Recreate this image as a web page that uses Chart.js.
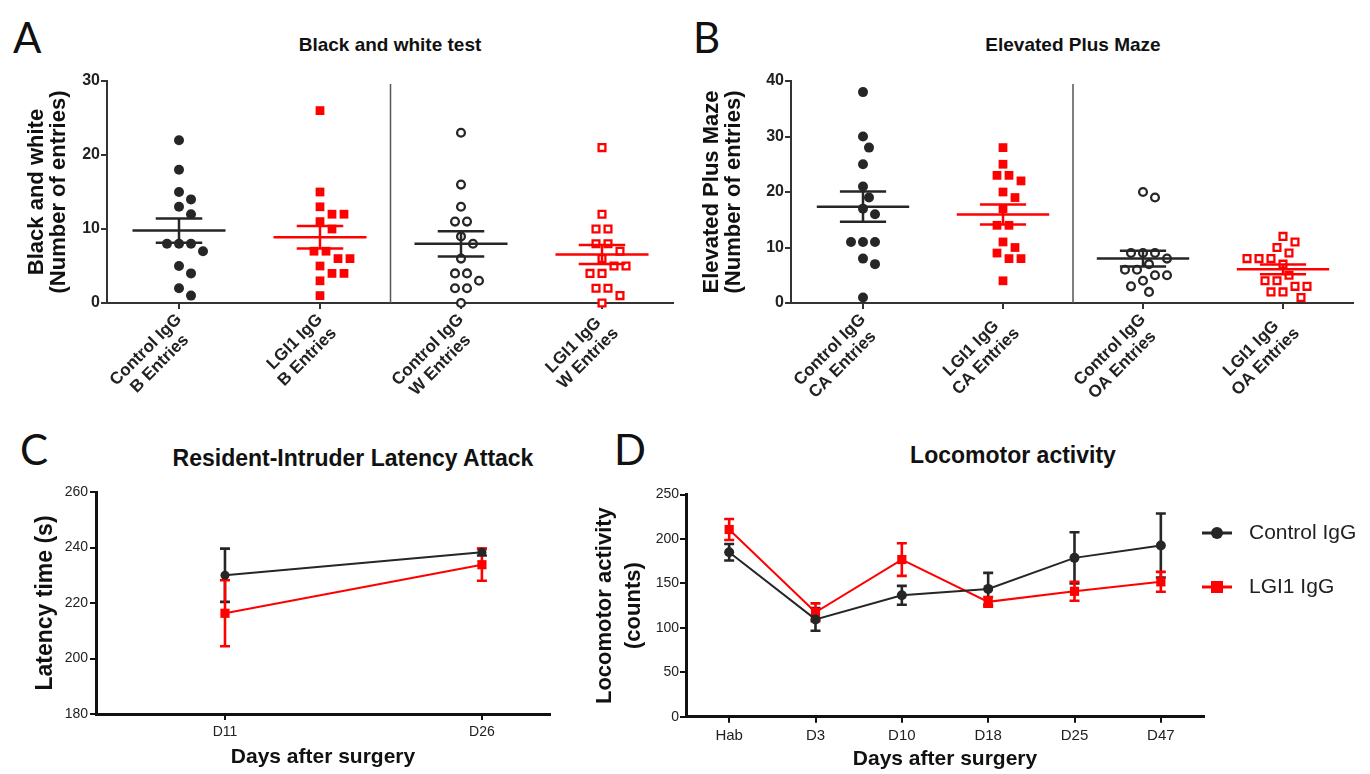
<!DOCTYPE html>
<html>
<head>
<meta charset="utf-8">
<script src="https://cdn.jsdelivr.net/npm/chart.js@4.4.1/dist/chart.umd.min.js"></script>
<style>
  html, body { margin: 0; padding: 0; background: #fff; }
  body { width: 1370px; height: 774px; position: relative; overflow: hidden; font-family: "Liberation Sans", Arial, sans-serif; }
  canvas { position: absolute; }
  .letter { position: absolute; font-family: Lato, "Open Sans", sans-serif; font-size: 42px; line-height: 42px; color: #111; }
  .title { position: absolute; font-weight: bold; color: #111; transform: translateX(-50%); white-space: nowrap; }
</style>
</head>
<body>
<div class="letter" style="left:13px;top:16px">A</div>
<div class="letter" style="left:693px;top:16px">B</div>
<div class="letter" style="left:20px;top:428px">C</div>
<div class="letter" style="left:614px;top:428px">D</div>
<div class="title" style="left:390px;top:34px;font-size:19px;line-height:22px">Black and white test</div>
<div class="title" style="left:1073px;top:34px;font-size:19px;line-height:22px">Elevated Plus Maze</div>
<div class="title" style="left:353px;top:445px;font-size:23px;line-height:26px">Resident-Intruder Latency Attack</div>
<div class="title" style="left:1013px;top:442px;font-size:23px;line-height:26px">Locomotor activity</div>

<canvas id="chartA" width="690" height="430" style="left:0;top:0"></canvas>
<canvas id="chartB" width="680" height="430" style="left:690px;top:0"></canvas>
<canvas id="chartC" width="580" height="344" style="left:0;top:430px"></canvas>
<canvas id="chartD" width="790" height="344" style="left:580px;top:430px"></canvas>

<script>
// ---- data ----
const groupsA = [["Control IgG", "B Entries"], ["LGI1 IgG", "B Entries"], ["Control IgG", "W Entries"], ["LGI1 IgG", "W Entries"]];
const ctrlB = [22, 18, 15, 14, 13, 12, 8, 8, 8, 7, 5, 4, 2, 1];
const lgiB = [26, 15, 13, 12, 12, 11, 10, 7, 7, 6, 6, 5, 4, 4, 3, 1];
const ctrlW = [23, 16, 13, 11, 11, 9, 8, 6, 4, 4, 3, 2, 2, 0];
const lgiW = [21, 12, 10, 10, 8, 8, 7, 6, 5, 5, 4, 4, 2, 2, 1, 0];
const yTicksA = [0, 10, 20, 30];

const groupsB = [["Control IgG", "CA Entries"], ["LGI1 IgG", "CA Entries"], ["Control IgG", "OA Entries"], ["LGI1 IgG", "OA Entries"]];
const ctrlCA = [38, 30, 28, 25, 21, 19, 17, 16, 11, 11, 11, 8, 7, 1];
const lgiCA = [28, 25, 23, 23, 22, 20, 19, 17, 14, 14, 11, 10, 9, 8, 8, 4];
const ctrlOA = [20, 19, 9, 9, 9, 8, 7, 6, 6, 5, 5, 4, 3, 2];
const lgiOA = [12, 11, 10, 9, 8, 8, 8, 7, 5, 4, 4, 3, 3, 2, 2, 1];
const yTicksB = [0, 10, 20, 30, 40];

const daysC = ["D11", "D26"];
const ctrlC = [230, 238.3];
const ctrlCsem = [9.6, 1.2];
const lgiC = [216.3, 233.8];
const lgiCsem = [11.9, 5.8];
const yTicksC = [180, 200, 220, 240, 260];

const daysD = ["Hab", "D3", "D10", "D18", "D25", "D47"];
const ctrlD = [185, 109.5, 136.6, 143.8, 178.7, 192.6];
const ctrlDsem = [9.3, 12.8, 10.6, 18, 28.8, 36];
const lgiD = [210.6, 117.5, 176.8, 129.2, 141.1, 151.7];
const lgiDsem = [11.8, 10, 18.4, 5.5, 10.6, 11.2];
const yTicksD = [0, 50, 100, 150, 200, 250];

const BLACK = '#262626';
const RED = '#ff0000';
const FONT = '"Liberation Sans", Arial, Helvetica, sans-serif';

Chart.defaults.font.family = FONT;
Chart.defaults.color = '#222';
Chart.defaults.animation = false;

// spread equal / close values sideways like a column scatter
function swarm(values, center, pxX, pxY, diam) {
  const placed = [];
  const pts = [];
  const shifts = [0];
  for (let k = 1; k <= 10; k++) shifts.push(k * diam / 2, -k * diam / 2);
  const levels = [...new Set(values)];
  levels.forEach(v => {
    const n = values.filter(u => u === v).length;
    const row = Array.from({ length: n }, (_, j) => (j - (n - 1) / 2) * diam);
    const free = c => placed.every(p => Math.hypot(p.dx - c, (p.v - v) * pxY) >= diam - 0.01);
    let s = shifts.find(b => row.every(r => free(r + b)));
    if (s === undefined) s = 0;
    row.forEach(r => {
      placed.push({ dx: r + s, v: v });
      pts.push({ x: center + (r + s) / pxX, y: v });
    });
  });
  return pts;
}

// right-aligned rotated labels: pad the shorter line so the two lines look centred
const measureCtx = document.createElement('canvas').getContext('2d');
function centreLines(lines, font) {
  measureCtx.font = font;
  const w = lines.map(t => measureCtx.measureText(t).width);
  const maxW = Math.max(...w);
  const sp = measureCtx.measureText(' ').width;
  return lines.map((t, i) => t + ' '.repeat(Math.round((maxW - w[i]) / 2 / sp)));
}

const avg = a => a.reduce((s, v) => s + v, 0) / a.length;
const sem = a => {
  const m = avg(a);
  const sd = Math.sqrt(a.reduce((s, v) => s + (v - m) * (v - m), 0) / (a.length - 1));
  return sd / Math.sqrt(a.length);
};

function meanSemPlugin(sets) {
  return {
    id: 'meanSem',
    afterDatasetsDraw(chart) {
      const { ctx, scales: { x, y } } = chart;
      const line = (x1, y1, x2, y2) => { ctx.beginPath(); ctx.moveTo(x1, y1); ctx.lineTo(x2, y2); ctx.stroke(); };
      ctx.save();
      sets.forEach((s, i) => {
        const m = avg(s.values), e = sem(s.values);
        const c = i + 1;
        ctx.strokeStyle = s.color;
        ctx.lineWidth = 2.5;
        line(x.getPixelForValue(c - 0.33), y.getPixelForValue(m), x.getPixelForValue(c + 0.33), y.getPixelForValue(m));
        line(x.getPixelForValue(c - 0.165), y.getPixelForValue(m + e), x.getPixelForValue(c + 0.165), y.getPixelForValue(m + e));
        line(x.getPixelForValue(c - 0.165), y.getPixelForValue(m - e), x.getPixelForValue(c + 0.165), y.getPixelForValue(m - e));
        line(x.getPixelForValue(c), y.getPixelForValue(m - e), x.getPixelForValue(c), y.getPixelForValue(m + e));
      });
      // divider between the two pairs
      ctx.strokeStyle = '#555';
      ctx.lineWidth = 1.5;
      const sx = x.getPixelForValue(2.5);
      line(sx, y.bottom, sx, y.top + 3);
      ctx.restore();
    }
  };
}

function makeColumns(id, groups, sets, yTicks, yTitle, L) {
  const yMax = yTicks[yTicks.length - 1];
  const pxY = (L.bottom - L.top) / yMax;
  const datasets = sets.map((s, i) => ({
    data: swarm(s.values, i + 1, L.step, pxY, 12),
    pointStyle: s.shape,
    pointRadius: s.shape === 'rect' ? (s.open ? 4.8 : 6.2) : (s.open ? 3.9 : 5),
    pointBackgroundColor: s.open ? '#fff' : s.color,
    pointBorderColor: s.color,
    pointBorderWidth: s.open ? 2.3 : 0,
    clip: false
  }));
  const xMin = 1 - L.firstOffset / L.step;
  const xMax = 4.5;
  const padRight = L.width - (L.left + (xMax - xMin) * L.step);
  const tickFont = 'bold 17px ' + FONT;
  new Chart(document.getElementById(id), {
    type: 'scatter',
    data: { datasets: datasets },
    options: {
      responsive: false,
      layout: { padding: { left: 0, top: L.top, right: padRight, bottom: 0 } },
      plugins: { legend: { display: false }, tooltip: { enabled: false } },
      scales: {
        x: {
          type: 'linear', min: xMin, max: xMax,
          afterBuildTicks: s => { s.ticks = groups.map((g, i) => ({ value: i + 1 })); },
          afterFit: s => { s.height = L.height - L.bottom; },
          ticks: {
            callback: v => centreLines(groups[v - 1], tickFont), autoSkip: false, minRotation: 45, maxRotation: 45,
            font: { size: 17, weight: 'bold', lineHeight: 1.15 }, color: '#222', padding: 1
          },
          grid: { display: true, drawOnChartArea: false, drawTicks: true, tickLength: 6, color: '#333', lineWidth: 2 },
          border: { display: true, color: '#333', width: 2 }
        },
        y: {
          min: 0, max: yMax,
          afterBuildTicks: s => { s.ticks = yTicks.map(v => ({ value: v })); },
          afterFit: s => { s.width = L.left; },
          ticks: { font: { size: 16, weight: 'bold' }, color: '#222', padding: 1 },
          grid: { display: true, drawOnChartArea: false, drawTicks: true, tickLength: 6, color: '#333', lineWidth: 2 },
          border: { display: true, color: '#333', width: 2 },
          title: {
            display: true, text: yTitle, color: '#111',
            font: { size: 22, weight: 'bold', lineHeight: 1.0 },
            padding: { top: L.titlePad, bottom: 0 }
          }
        }
      }
    },
    plugins: [meanSemPlugin(sets)]
  });
}

makeColumns('chartA', groupsA, [
  { values: ctrlB, color: BLACK, shape: 'circle', open: false },
  { values: lgiB, color: RED, shape: 'rect', open: false },
  { values: ctrlW, color: BLACK, shape: 'circle', open: true },
  { values: lgiW, color: RED, shape: 'rect', open: true }
], yTicksA, ["Black and white", "(Number of entries)"],
  { width: 690, height: 430, left: 107, top: 81, bottom: 303, step: 141, firstOffset: 72, titlePad: 26 });

makeColumns('chartB', groupsB, [
  { values: ctrlCA, color: BLACK, shape: 'circle', open: false },
  { values: lgiCA, color: RED, shape: 'rect', open: false },
  { values: ctrlOA, color: BLACK, shape: 'circle', open: true },
  { values: lgiOA, color: RED, shape: 'rect', open: true }
], yTicksB, ["Elevated Plus Maze", "(Number of entries)"],
  { width: 680, height: 430, left: 101, top: 81, bottom: 303, step: 140, firstOffset: 72, titlePad: 11 });

function errorBarPlugin(sets) {
  return {
    id: 'errBars',
    beforeDatasetsDraw(chart) {
      const { ctx, scales: { x, y } } = chart;
      ctx.save();
      ctx.lineWidth = 2.6;
      sets.forEach(s => {
        ctx.strokeStyle = s.color;
        s.means.forEach((m, i) => {
          const px = x.getPixelForValue(i);
          const top = y.getPixelForValue(m + s.sems[i]);
          const bot = y.getPixelForValue(m - s.sems[i]);
          ctx.beginPath();
          ctx.moveTo(px, top); ctx.lineTo(px, bot);
          ctx.moveTo(px - 5, top); ctx.lineTo(px + 5, top);
          ctx.moveTo(px - 5, bot); ctx.lineTo(px + 5, bot);
          ctx.stroke();
        });
      });
      ctx.restore();
    }
  };
}

const axisStyle = {
  grid: { display: true, drawOnChartArea: false, drawTicks: true, tickLength: 6, color: '#111', lineWidth: 2 },
  border: { display: true, color: '#111', width: 3 }
};

// ---- C ----
new Chart(document.getElementById('chartC'), {
  type: 'line',
  data: {
    datasets: [
      {
        label: 'Control IgG', data: ctrlC.map((v, i) => ({ x: i, y: v })),
        borderColor: BLACK, borderWidth: 2, pointStyle: 'circle', pointRadius: 4.5,
        pointBackgroundColor: BLACK, pointBorderWidth: 0, clip: false
      },
      {
        label: 'LGI1 IgG', data: lgiC.map((v, i) => ({ x: i, y: v })),
        borderColor: RED, borderWidth: 2, pointStyle: 'rect', pointRadius: 6.5,
        pointBackgroundColor: RED, pointBorderWidth: 0, clip: false
      }
    ]
  },
  options: {
    responsive: false,
    layout: { padding: { left: 0, top: 62, right: 30, bottom: 0 } },
    plugins: { legend: { display: false }, tooltip: { enabled: false } },
    scales: {
      x: {
        type: 'linear', min: -0.502, max: 1.265,
        afterBuildTicks: s => { s.ticks = daysC.map((d, i) => ({ value: i })); },
        afterFit: s => { s.height = 60; },
        ticks: { callback: v => daysC[v], autoSkip: false, maxRotation: 0, font: { size: 14 }, color: '#222', padding: 4 },
        title: { display: true, text: 'Days after surgery', color: '#111', font: { size: 21, weight: 'bold', lineHeight: 1.2 }, padding: { top: 0, bottom: 4 } },
        ...axisStyle
      },
      y: {
        min: 180, max: 260,
        afterBuildTicks: s => { s.ticks = yTicksC.map(v => ({ value: v })); },
        afterFit: s => { s.width = 96; },
        ticks: { font: { size: 14 }, color: '#222', padding: 2 },
        title: { display: true, text: 'Latency time (s)', color: '#111', font: { size: 23, weight: 'bold', lineHeight: 1.2 }, padding: { top: 32, bottom: 0 } },
        ...axisStyle
      }
    }
  },
  plugins: [errorBarPlugin([
    { means: ctrlC, sems: ctrlCsem, color: BLACK },
    { means: lgiC, sems: lgiCsem, color: RED }
  ])]
});

// ---- D ----
const sideLegend = {
  id: 'sideLegend',
  afterDraw(chart) {
    const ctx = chart.ctx;
    const x0 = chart.chartArea.right - 2;
    chart.data.datasets.forEach((ds, i) => {
      const y = 103 + i * 54;
      ctx.save();
      ctx.strokeStyle = ds.borderColor;
      ctx.lineWidth = 3;
      ctx.beginPath(); ctx.moveTo(x0, y); ctx.lineTo(x0 + 30, y); ctx.stroke();
      ctx.fillStyle = ds.borderColor;
      if (ds.pointStyle === 'rect') {
        ctx.fillRect(x0 + 9, y - 6, 12, 12);
      } else {
        ctx.beginPath(); ctx.arc(x0 + 15, y, 6, 0, Math.PI * 2); ctx.fill();
      }
      ctx.font = '21px ' + FONT;
      ctx.textBaseline = 'middle';
      ctx.fillStyle = '#222';
      ctx.fillText(ds.label, x0 + 47, y);
      ctx.restore();
    });
  }
};

new Chart(document.getElementById('chartD'), {
  type: 'line',
  data: {
    labels: daysD,
    datasets: [
      {
        label: 'Control IgG', data: ctrlD,
        borderColor: BLACK, borderWidth: 2, pointStyle: 'circle', pointRadius: 5,
        pointBackgroundColor: BLACK, pointBorderWidth: 0, clip: false
      },
      {
        label: 'LGI1 IgG', data: lgiD,
        borderColor: RED, borderWidth: 2, pointStyle: 'rect', pointRadius: 6.5,
        pointBackgroundColor: RED, pointBorderWidth: 0, clip: false
      }
    ]
  },
  options: {
    responsive: false,
    layout: { padding: { left: 0, top: 64.5, right: 166, bottom: 0 } },
    plugins: { legend: { display: false }, tooltip: { enabled: false } },
    scales: {
      x: {
        type: 'category', offset: true,
        afterFit: s => { s.height = 57.3; },
        ticks: { autoSkip: false, maxRotation: 0, font: { size: 15 }, color: '#222', padding: 4 },
        title: { display: true, text: 'Days after surgery', color: '#111', font: { size: 21, weight: 'bold', lineHeight: 1.2 }, padding: { top: 0, bottom: 2 } },
        ...axisStyle
      },
      y: {
        min: 0, max: 250,
        afterBuildTicks: s => { s.ticks = yTicksD.map(v => ({ value: v })); },
        afterFit: s => { s.width = 106; },
        ticks: { font: { size: 14 }, color: '#222', padding: 1 },
        title: { display: true, text: ['Locomotor activity', '(counts)'], color: '#111', font: { size: 22, weight: 'bold', lineHeight: 1.3 }, padding: { top: 11, bottom: 0 } },
        ...axisStyle
      }
    }
  },
  plugins: [errorBarPlugin([
    { means: ctrlD, sems: ctrlDsem, color: BLACK },
    { means: lgiD, sems: lgiDsem, color: RED }
  ]), sideLegend]
});
</script>
</body>
</html>
